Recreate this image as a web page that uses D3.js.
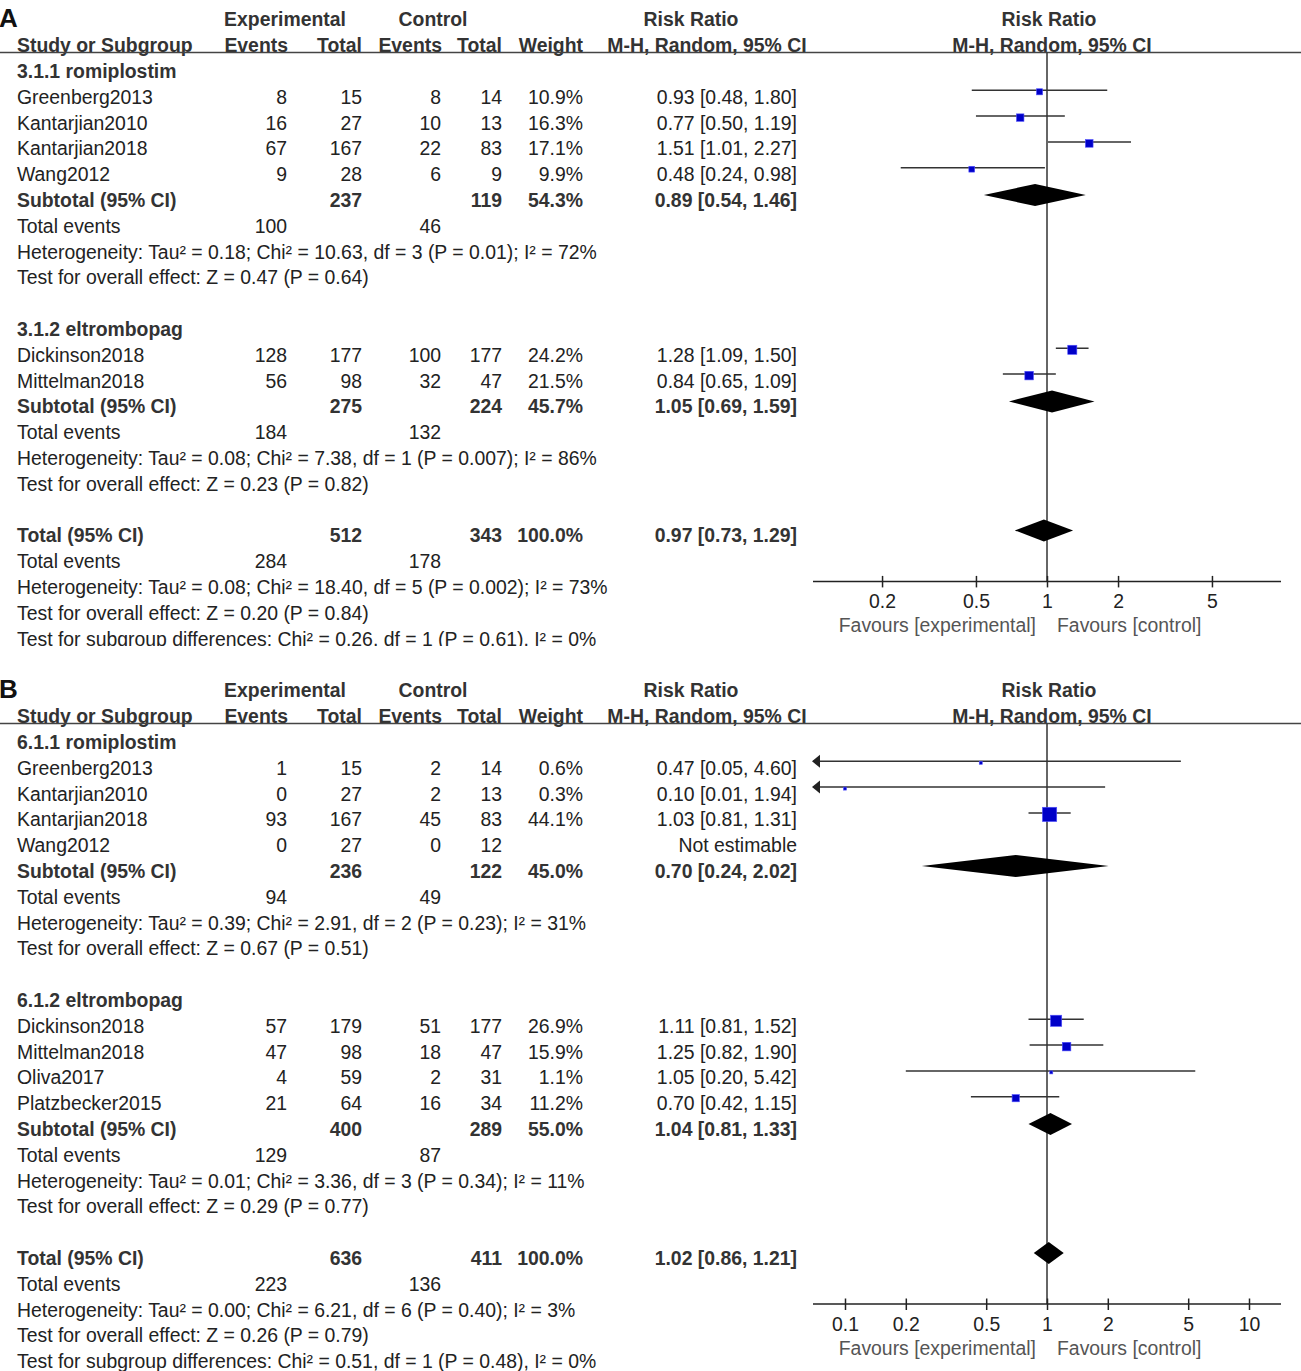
<!DOCTYPE html>
<html>
<head>
<meta charset="utf-8">
<script src="https://cdn.jsdelivr.net/npm/d3@7"></script>
<style>
  body { margin: 0; background: #fff; }
  text { font-family: 'Liberation Sans', Arial, sans-serif; }
</style>
</head>
<body>
<script>
// ---- data, panel A ----
var subgroupsA = ["3.1.1 romiplostim", "3.1.2 eltrombopag"];
// name, expEvents, expTotal, ctlEvents, ctlTotal, weight, rr, lo, hi, subgroup
var studiesA = [
  ["Greenberg2013", 8, 15, 8, 14, 10.9, 0.93, 0.48, 1.80, 0],
  ["Kantarjian2010", 16, 27, 10, 13, 16.3, 0.77, 0.50, 1.19, 0],
  ["Kantarjian2018", 67, 167, 22, 83, 17.1, 1.51, 1.01, 2.27, 0],
  ["Wang2012", 9, 28, 6, 9, 9.9, 0.48, 0.24, 0.98, 0],
  ["Dickinson2018", 128, 177, 100, 177, 24.2, 1.28, 1.09, 1.50, 1],
  ["Mittelman2018", 56, 98, 32, 47, 21.5, 0.84, 0.65, 1.09, 1]
];
// expTotal, ctlTotal, weight, rr, lo, hi, expEvents, ctlEvents
var subtotalsA = [
  [237, 119, 54.3, 0.89, 0.54, 1.46, 100, 46],
  [275, 224, 45.7, 1.05, 0.69, 1.59, 184, 132]
];
var totalA = [512, 343, 100.0, 0.97, 0.73, 1.29, 284, 178];
var hetA = [
  "Heterogeneity: Tau² = 0.18; Chi² = 10.63, df = 3 (P = 0.01); I² = 72%",
  "Heterogeneity: Tau² = 0.08; Chi² = 7.38, df = 1 (P = 0.007); I² = 86%",
  "Heterogeneity: Tau² = 0.08; Chi² = 18.40, df = 5 (P = 0.002); I² = 73%"
];
var effectA = [
  "Test for overall effect: Z = 0.47 (P = 0.64)",
  "Test for overall effect: Z = 0.23 (P = 0.82)",
  "Test for overall effect: Z = 0.20 (P = 0.84)"
];
var subgroupTestA = "Test for subgroup differences: Chi² = 0.26, df = 1 (P = 0.61), I² = 0%";
var ticksA = [0.2, 0.5, 1, 2, 5];

// ---- data, panel B ----
var subgroupsB = ["6.1.1 romiplostim", "6.1.2 eltrombopag"];
var studiesB = [
  ["Greenberg2013", 1, 15, 2, 14, 0.6, 0.47, 0.05, 4.60, 0],
  ["Kantarjian2010", 0, 27, 2, 13, 0.3, 0.10, 0.01, 1.94, 0],
  ["Kantarjian2018", 93, 167, 45, 83, 44.1, 1.03, 0.81, 1.31, 0],
  ["Wang2012", 0, 27, 0, 12, null, null, null, null, 0],
  ["Dickinson2018", 57, 179, 51, 177, 26.9, 1.11, 0.81, 1.52, 1],
  ["Mittelman2018", 47, 98, 18, 47, 15.9, 1.25, 0.82, 1.90, 1],
  ["Oliva2017", 4, 59, 2, 31, 1.1, 1.05, 0.20, 5.42, 1],
  ["Platzbecker2015", 21, 64, 16, 34, 11.2, 0.70, 0.42, 1.15, 1]
];
var subtotalsB = [
  [236, 122, 45.0, 0.70, 0.24, 2.02, 94, 49],
  [400, 289, 55.0, 1.04, 0.81, 1.33, 129, 87]
];
var totalB = [636, 411, 100.0, 1.02, 0.86, 1.21, 223, 136];
var hetB = [
  "Heterogeneity: Tau² = 0.39; Chi² = 2.91, df = 2 (P = 0.23); I² = 31%",
  "Heterogeneity: Tau² = 0.01; Chi² = 3.36, df = 3 (P = 0.34); I² = 11%",
  "Heterogeneity: Tau² = 0.00; Chi² = 6.21, df = 6 (P = 0.40); I² = 3%"
];
var effectB = [
  "Test for overall effect: Z = 0.67 (P = 0.51)",
  "Test for overall effect: Z = 0.29 (P = 0.77)",
  "Test for overall effect: Z = 0.26 (P = 0.79)"
];
var subgroupTestB = "Test for subgroup differences: Chi² = 0.51, df = 1 (P = 0.48), I² = 0%";
var ticksB = [0.1, 0.2, 0.5, 1, 2, 5, 10];

// ---- layout ----
var W = 1301, H = 1371;
var rowH = 25.8;
var fs = 19.4;
var colName = 17, colEE = 287, colET = 362, colCE = 441, colCT = 502, colW = 583, colCI = 797;
var axisLeft = 813, axisRight = 1281;
var txt = "#222";

var svg = d3.select("body").append("svg").attr("width", W).attr("height", H);

function fmtCI(r, l, h) {
  return r.toFixed(2) + " [" + l.toFixed(2) + ", " + h.toFixed(2) + "]";
}

function buildRows(subgroups, studies, subtotals, total, het, effect, sgTest) {
  var rows = [];
  subgroups.forEach(function (sg, g) {
    rows.push({ type: "label", name: sg });
    studies.filter(function (s) { return s[9] === g; }).forEach(function (s) {
      rows.push({ type: "study", d: s });
    });
    var st = subtotals[g];
    rows.push({ type: "sum", name: "Subtotal (95% CI)", d: st });
    rows.push({ type: "events", d: st });
    rows.push({ type: "note", name: het[g] });
    rows.push({ type: "note", name: effect[g] });
    rows.push({ type: "blank" });
  });
  rows.push({ type: "sum", name: "Total (95% CI)", d: total, big: true });
  rows.push({ type: "events", d: total });
  rows.push({ type: "note", name: het[2] });
  rows.push({ type: "note", name: effect[2] });
  rows.push({ type: "note", name: sgTest });
  return rows;
}

function drawPanel(opt) {
  var g = svg.append("g");
  if (opt.clip) {
    svg.append("clipPath").attr("id", opt.id + "clip")
      .append("rect").attr("x", 0).attr("y", opt.top - 20).attr("width", W).attr("height", opt.clip - opt.top + 20);
    g.attr("clip-path", "url(#" + opt.id + "clip)");
  }
  var y0 = opt.top + 71; // first row text centre
  var rows = buildRows(opt.subgroups, opt.studies, opt.subtotals, opt.total, opt.het, opt.effect, opt.sgTest);
  var totalIdx = rows.findIndex(function (r) { return r.big; });
  var ruleY = opt.top + 52.5;
  var axisY = y0 + totalIdx * rowH + 46;

  var x = d3.scaleLog().domain([0.1, 10]).range([1047 - opt.decade, 1047 + opt.decade]);

  function t(xp, yc, s, anchor, bold, fill) {
    g.append("text").attr("x", xp).attr("y", yc + 7)
      .attr("text-anchor", anchor || "start")
      .attr("font-size", fs)
      .attr("font-weight", bold ? "bold" : "normal")
      .attr("fill", fill || txt)
      .text(s);
  }

  // panel letter
  g.append("text").attr("x", -1).attr("y", opt.top + 27).attr("font-size", 26)
    .attr("font-weight", "bold").attr("fill", "#111").text(opt.letter);

  // headers
  var h1 = opt.top + 19, h2 = opt.top + 45;
  t(285, h1, "Experimental", "middle", true, "#333");
  t(433, h1, "Control", "middle", true, "#333");
  t(691, h1, "Risk Ratio", "middle", true, "#333");
  t(1049, h1, "Risk Ratio", "middle", true, "#333");
  t(colName, h2, "Study or Subgroup", "start", true, "#333");
  t(colEE + 1, h2, "Events", "end", true, "#333");
  t(colET, h2, "Total", "end", true, "#333");
  t(colCE + 1, h2, "Events", "end", true, "#333");
  t(colCT, h2, "Total", "end", true, "#333");
  t(colW, h2, "Weight", "end", true, "#333");
  t(707, h2, "M-H, Random, 95% CI", "middle", true, "#333");
  t(1052, h2, "M-H, Random, 95% CI", "middle", true, "#333");
  g.append("line").attr("x1", 0).attr("x2", W).attr("y1", ruleY).attr("y2", ruleY)
    .attr("stroke", "#444").attr("stroke-width", 1.6);

  // reference line at 1
  g.append("line").attr("x1", x(1)).attr("x2", x(1)).attr("y1", ruleY).attr("y2", axisY)
    .attr("stroke", "#333").attr("stroke-width", 1.5);

  rows.forEach(function (r, i) {
    var yc = y0 + i * rowH;
    var ym = yc - 6.5;
    if (r.type === "label") {
      t(colName, yc, r.name, "start", true, "#333");
    } else if (r.type === "study") {
      var d = r.d;
      t(colName, yc, d[0]);
      t(colEE, yc, d[1], "end");
      t(colET, yc, d[2], "end");
      t(colCE, yc, d[3], "end");
      t(colCT, yc, d[4], "end");
      if (d[5] === null) {
        t(colCI, yc, "Not estimable", "end");
        return;
      }
      t(colW, yc, d[5].toFixed(1) + "%", "end");
      t(colCI, yc, fmtCI(d[6], d[7], d[8]), "end");
      var lo = x(d[7]) < axisLeft ? axisLeft : x(d[7]);
      var hi = x(d[8]) > axisRight ? axisRight : x(d[8]);
      g.append("line").attr("x1", lo).attr("x2", hi).attr("y1", ym).attr("y2", ym)
        .attr("stroke", "#333").attr("stroke-width", 1.5);
      if (x(d[7]) < axisLeft) {
        g.append("path").attr("d", "M" + (axisLeft - 1) + "," + ym + "l8,-6.5v13z").attr("fill", "#222");
      }
      var side = Math.max(3, opt.sq * Math.sqrt(d[5]));
      g.append("rect").attr("x", x(d[6]) - side / 2).attr("y", ym + 1.5 - side / 2)
        .attr("width", side).attr("height", side)
        .attr("fill", "#0000c8").attr("stroke", "#5050ff").attr("stroke-width", 0.6);
    } else if (r.type === "sum") {
      var s = r.d;
      t(colName, yc, r.name, "start", true, "#333");
      t(colET, yc, s[0], "end", true, "#333");
      t(colCT, yc, s[1], "end", true, "#333");
      t(colW, yc, s[2].toFixed(1) + "%", "end", true, "#333");
      t(colCI, yc, fmtCI(s[3], s[4], s[5]), "end", true, "#333");
      var yd = yc - 5;
      var pts = [[x(s[4]), yd], [x(s[3]), yd - 11], [x(s[5]), yd], [x(s[3]), yd + 11]];
      g.append("path").attr("d", d3.line()(pts) + "Z").attr("fill", "#000");
    } else if (r.type === "events") {
      t(colName, yc, "Total events");
      t(colEE, yc, r.d[6], "end");
      t(colCE, yc, r.d[7], "end");
    } else if (r.type === "note") {
      t(colName, yc, r.name);
    }
  });

  // axis
  g.append("line").attr("x1", axisLeft).attr("x2", axisRight).attr("y1", axisY).attr("y2", axisY)
    .attr("stroke", "#222").attr("stroke-width", 1.5);
  var ax = g.append("g").attr("transform", "translate(0," + axisY + ")")
    .call(d3.axisBottom(x).tickValues(opt.ticks).tickFormat(function (v) { return String(v); }).tickSize(6));
  ax.select(".domain").remove();
  ax.selectAll(".tick line").attr("y1", -5.5).attr("y2", 6).attr("stroke", "#222").attr("stroke-width", 1.5);
  ax.selectAll(".tick text").attr("y", 27).attr("dy", null).attr("font-size", fs)
    .attr("fill", "#222").attr("font-family", "'Liberation Sans', Arial, sans-serif");

  t(x(1) - 11, axisY + 44, "Favours [experimental]", "end", false, "#555");
  t(x(1) + 10, axisY + 44, "Favours [control]", "start", false, "#555");
}

drawPanel({
  id: "a", letter: "A", top: 0, clip: 646, decade: 236, sq: 1.85,
  subgroups: subgroupsA, studies: studiesA, subtotals: subtotalsA, total: totalA,
  het: hetA, effect: effectA, sgTest: subgroupTestA, ticks: ticksA
});
drawPanel({
  id: "b", letter: "B", top: 671, clip: null, decade: 202, sq: 2.15,
  subgroups: subgroupsB, studies: studiesB, subtotals: subtotalsB, total: totalB,
  het: hetB, effect: effectB, sgTest: subgroupTestB, ticks: ticksB
});
</script>
</body>
</html>
